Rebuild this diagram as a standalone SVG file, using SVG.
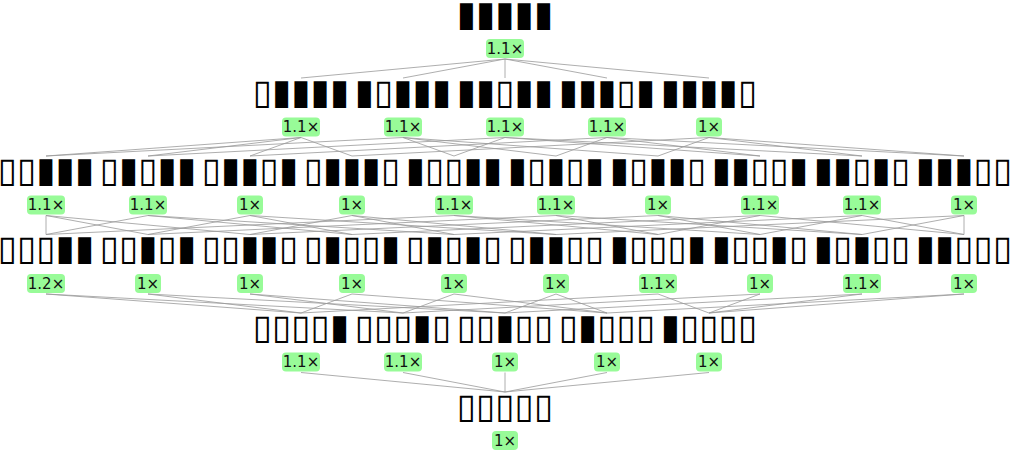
<svg xmlns="http://www.w3.org/2000/svg" width="1010" height="452" viewBox="0 0 1010 452">
<style>
.n{font-family:"DejaVu Sans",sans-serif;font-size:35px;font-weight:bold;fill:#000;text-anchor:middle;dominant-baseline:central}
.b{fill:#98fb98}
.bt{font-family:"DejaVu Sans",sans-serif;font-size:15px;fill:#111;text-anchor:middle;dominant-baseline:central}
#edges line{stroke:#999;stroke-width:0.8}
</style>
<rect width="1010" height="452" fill="#fff"/>
<g id="edges">
<line x1="505" y1="59" x2="301" y2="78"/><line x1="505" y1="59" x2="403" y2="78"/><line x1="505" y1="59" x2="505" y2="78"/><line x1="505" y1="59" x2="607" y2="78"/><line x1="505" y1="59" x2="709" y2="78"/>
<line x1="301" y1="137.5" x2="46" y2="156"/><line x1="301" y1="137.5" x2="148" y2="156"/><line x1="301" y1="137.5" x2="250" y2="156"/><line x1="301" y1="137.5" x2="352" y2="156"/>
<line x1="403" y1="137.5" x2="46" y2="156"/><line x1="403" y1="137.5" x2="454" y2="156"/><line x1="403" y1="137.5" x2="556" y2="156"/><line x1="403" y1="137.5" x2="658" y2="156"/>
<line x1="505" y1="137.5" x2="148" y2="156"/><line x1="505" y1="137.5" x2="454" y2="156"/><line x1="505" y1="137.5" x2="760" y2="156"/><line x1="505" y1="137.5" x2="862" y2="156"/>
<line x1="607" y1="137.5" x2="250" y2="156"/><line x1="607" y1="137.5" x2="556" y2="156"/><line x1="607" y1="137.5" x2="760" y2="156"/><line x1="607" y1="137.5" x2="964" y2="156"/>
<line x1="709" y1="137.5" x2="352" y2="156"/><line x1="709" y1="137.5" x2="658" y2="156"/><line x1="709" y1="137.5" x2="862" y2="156"/><line x1="709" y1="137.5" x2="964" y2="156"/>
<line x1="46" y1="215.5" x2="46" y2="234.5"/><line x1="46" y1="215.5" x2="148" y2="234.5"/><line x1="46" y1="215.5" x2="250" y2="234.5"/>
<line x1="148" y1="215.5" x2="46" y2="234.5"/><line x1="148" y1="215.5" x2="352" y2="234.5"/><line x1="148" y1="215.5" x2="454" y2="234.5"/>
<line x1="250" y1="215.5" x2="148" y2="234.5"/><line x1="250" y1="215.5" x2="352" y2="234.5"/><line x1="250" y1="215.5" x2="556" y2="234.5"/>
<line x1="352" y1="215.5" x2="250" y2="234.5"/><line x1="352" y1="215.5" x2="454" y2="234.5"/><line x1="352" y1="215.5" x2="556" y2="234.5"/>
<line x1="454" y1="215.5" x2="46" y2="234.5"/><line x1="454" y1="215.5" x2="658" y2="234.5"/><line x1="454" y1="215.5" x2="760" y2="234.5"/>
<line x1="556" y1="215.5" x2="148" y2="234.5"/><line x1="556" y1="215.5" x2="658" y2="234.5"/><line x1="556" y1="215.5" x2="862" y2="234.5"/>
<line x1="658" y1="215.5" x2="250" y2="234.5"/><line x1="658" y1="215.5" x2="760" y2="234.5"/><line x1="658" y1="215.5" x2="862" y2="234.5"/>
<line x1="760" y1="215.5" x2="352" y2="234.5"/><line x1="760" y1="215.5" x2="658" y2="234.5"/><line x1="760" y1="215.5" x2="964" y2="234.5"/>
<line x1="862" y1="215.5" x2="454" y2="234.5"/><line x1="862" y1="215.5" x2="760" y2="234.5"/><line x1="862" y1="215.5" x2="964" y2="234.5"/>
<line x1="964" y1="215.5" x2="556" y2="234.5"/><line x1="964" y1="215.5" x2="862" y2="234.5"/><line x1="964" y1="215.5" x2="964" y2="234.5"/>
<line x1="46" y1="294" x2="301" y2="313"/><line x1="46" y1="294" x2="403" y2="313"/>
<line x1="148" y1="294" x2="301" y2="313"/><line x1="148" y1="294" x2="505" y2="313"/>
<line x1="250" y1="294" x2="403" y2="313"/><line x1="250" y1="294" x2="505" y2="313"/>
<line x1="352" y1="294" x2="301" y2="313"/><line x1="352" y1="294" x2="607" y2="313"/>
<line x1="454" y1="294" x2="403" y2="313"/><line x1="454" y1="294" x2="607" y2="313"/>
<line x1="556" y1="294" x2="505" y2="313"/><line x1="556" y1="294" x2="607" y2="313"/>
<line x1="658" y1="294" x2="301" y2="313"/><line x1="658" y1="294" x2="709" y2="313"/>
<line x1="760" y1="294" x2="403" y2="313"/><line x1="760" y1="294" x2="709" y2="313"/>
<line x1="862" y1="294" x2="505" y2="313"/><line x1="862" y1="294" x2="709" y2="313"/>
<line x1="964" y1="294" x2="607" y2="313"/><line x1="964" y1="294" x2="709" y2="313"/>
<line x1="301" y1="372.5" x2="505" y2="392"/><line x1="403" y1="372.5" x2="505" y2="392"/><line x1="505" y1="372.5" x2="505" y2="392"/><line x1="607" y1="372.5" x2="505" y2="392"/><line x1="709" y1="372.5" x2="505" y2="392"/>
</g>
<g id="n0"><text class="n" x="505" y="14">▮▮▮▮▮</text><rect class="b" x="486" y="39" width="38" height="19" rx="4"/><text class="bt" x="505" y="48.5">1.1×</text></g>
<g id="n1a"><text class="n" x="301" y="91.5">▯▮▮▮▮</text><rect class="b" x="282" y="117.5" width="38" height="19" rx="4"/><text class="bt" x="301" y="127">1.1×</text></g>
<g id="n1b"><text class="n" x="403" y="91.5">▮▯▮▮▮</text><rect class="b" x="384" y="117.5" width="38" height="19" rx="4"/><text class="bt" x="403" y="127">1.1×</text></g>
<g id="n1c"><text class="n" x="505" y="91.5">▮▮▯▮▮</text><rect class="b" x="486" y="117.5" width="38" height="19" rx="4"/><text class="bt" x="505" y="127">1.1×</text></g>
<g id="n1d"><text class="n" x="607" y="91.5">▮▮▮▯▮</text><rect class="b" x="588" y="117.5" width="38" height="19" rx="4"/><text class="bt" x="607" y="127">1.1×</text></g>
<g id="n1e"><text class="n" x="709" y="91.5">▮▮▮▮▯</text><rect class="b" x="696" y="117.5" width="26" height="19" rx="4"/><text class="bt" x="709" y="127">1×</text></g>
<g id="n2a"><text class="n" x="46" y="169.5">▯▯▮▮▮</text><rect class="b" x="27" y="195.5" width="38" height="19" rx="4"/><text class="bt" x="46" y="205">1.1×</text></g>
<g id="n2b"><text class="n" x="148" y="169.5">▯▮▯▮▮</text><rect class="b" x="129" y="195.5" width="38" height="19" rx="4"/><text class="bt" x="148" y="205">1.1×</text></g>
<g id="n2c"><text class="n" x="250" y="169.5">▯▮▮▯▮</text><rect class="b" x="237" y="195.5" width="26" height="19" rx="4"/><text class="bt" x="250" y="205">1×</text></g>
<g id="n2d"><text class="n" x="352" y="169.5">▯▮▮▮▯</text><rect class="b" x="339" y="195.5" width="26" height="19" rx="4"/><text class="bt" x="352" y="205">1×</text></g>
<g id="n2e"><text class="n" x="454" y="169.5">▮▯▯▮▮</text><rect class="b" x="435" y="195.5" width="38" height="19" rx="4"/><text class="bt" x="454" y="205">1.1×</text></g>
<g id="n2f"><text class="n" x="556" y="169.5">▮▯▮▯▮</text><rect class="b" x="537" y="195.5" width="38" height="19" rx="4"/><text class="bt" x="556" y="205">1.1×</text></g>
<g id="n2g"><text class="n" x="658" y="169.5">▮▯▮▮▯</text><rect class="b" x="645" y="195.5" width="26" height="19" rx="4"/><text class="bt" x="658" y="205">1×</text></g>
<g id="n2h"><text class="n" x="760" y="169.5">▮▮▯▯▮</text><rect class="b" x="741" y="195.5" width="38" height="19" rx="4"/><text class="bt" x="760" y="205">1.1×</text></g>
<g id="n2i"><text class="n" x="862" y="169.5">▮▮▯▮▯</text><rect class="b" x="843" y="195.5" width="38" height="19" rx="4"/><text class="bt" x="862" y="205">1.1×</text></g>
<g id="n2j"><text class="n" x="964" y="169.5">▮▮▮▯▯</text><rect class="b" x="951" y="195.5" width="26" height="19" rx="4"/><text class="bt" x="964" y="205">1×</text></g>
<g id="n3a"><text class="n" x="46" y="247.5">▯▯▯▮▮</text><rect class="b" x="27" y="274" width="38" height="19" rx="4"/><text class="bt" x="46" y="283.5">1.2×</text></g>
<g id="n3b"><text class="n" x="148" y="247.5">▯▯▮▯▮</text><rect class="b" x="135" y="274" width="26" height="19" rx="4"/><text class="bt" x="148" y="283.5">1×</text></g>
<g id="n3c"><text class="n" x="250" y="247.5">▯▯▮▮▯</text><rect class="b" x="237" y="274" width="26" height="19" rx="4"/><text class="bt" x="250" y="283.5">1×</text></g>
<g id="n3d"><text class="n" x="352" y="247.5">▯▮▯▯▮</text><rect class="b" x="339" y="274" width="26" height="19" rx="4"/><text class="bt" x="352" y="283.5">1×</text></g>
<g id="n3e"><text class="n" x="454" y="247.5">▯▮▯▮▯</text><rect class="b" x="441" y="274" width="26" height="19" rx="4"/><text class="bt" x="454" y="283.5">1×</text></g>
<g id="n3f"><text class="n" x="556" y="247.5">▯▮▮▯▯</text><rect class="b" x="543" y="274" width="26" height="19" rx="4"/><text class="bt" x="556" y="283.5">1×</text></g>
<g id="n3g"><text class="n" x="658" y="247.5">▮▯▯▯▮</text><rect class="b" x="639" y="274" width="38" height="19" rx="4"/><text class="bt" x="658" y="283.5">1.1×</text></g>
<g id="n3h"><text class="n" x="760" y="247.5">▮▯▯▮▯</text><rect class="b" x="747" y="274" width="26" height="19" rx="4"/><text class="bt" x="760" y="283.5">1×</text></g>
<g id="n3i"><text class="n" x="862" y="247.5">▮▯▮▯▯</text><rect class="b" x="843" y="274" width="38" height="19" rx="4"/><text class="bt" x="862" y="283.5">1.1×</text></g>
<g id="n3j"><text class="n" x="964" y="247.5">▮▮▯▯▯</text><rect class="b" x="951" y="274" width="26" height="19" rx="4"/><text class="bt" x="964" y="283.5">1×</text></g>
<g id="n4a"><text class="n" x="301" y="326.5">▯▯▯▯▮</text><rect class="b" x="282" y="352.5" width="38" height="19" rx="4"/><text class="bt" x="301" y="362">1.1×</text></g>
<g id="n4b"><text class="n" x="403" y="326.5">▯▯▯▮▯</text><rect class="b" x="384" y="352.5" width="38" height="19" rx="4"/><text class="bt" x="403" y="362">1.1×</text></g>
<g id="n4c"><text class="n" x="505" y="326.5">▯▯▮▯▯</text><rect class="b" x="492" y="352.5" width="26" height="19" rx="4"/><text class="bt" x="505" y="362">1×</text></g>
<g id="n4d"><text class="n" x="607" y="326.5">▯▮▯▯▯</text><rect class="b" x="594" y="352.5" width="26" height="19" rx="4"/><text class="bt" x="607" y="362">1×</text></g>
<g id="n4e"><text class="n" x="709" y="326.5">▮▯▯▯▯</text><rect class="b" x="696" y="352.5" width="26" height="19" rx="4"/><text class="bt" x="709" y="362">1×</text></g>
<g id="n5"><text class="n" x="505" y="405.5">▯▯▯▯▯</text><rect class="b" x="492" y="431" width="26" height="19" rx="4"/><text class="bt" x="505" y="440.5">1×</text></g>
</svg>
